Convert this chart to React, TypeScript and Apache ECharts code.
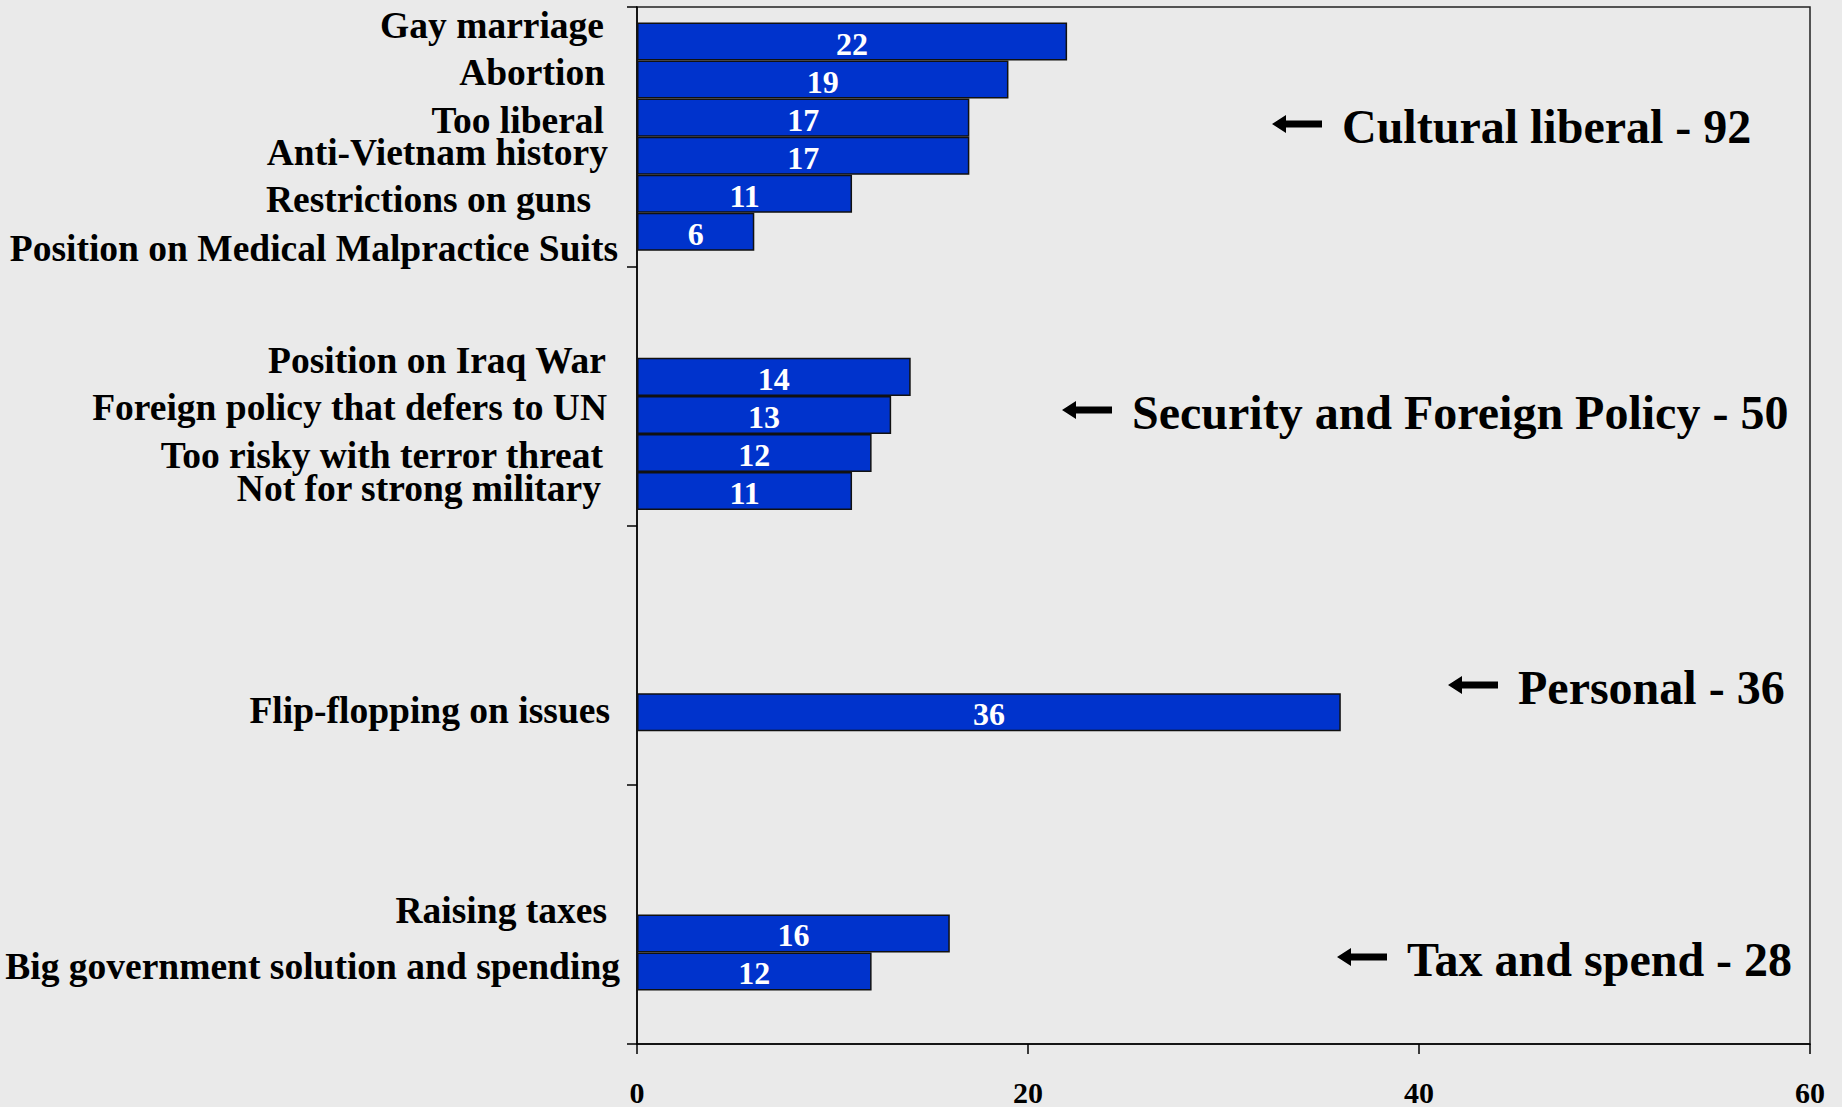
import React, { useEffect, useRef } from "react";
import * as echarts from "echarts";

// ---------- data ----------
const groupNames = ["Cultural liberal", "Security and Foreign Policy", "Personal", "Tax and spend"];
const groupTotals = [92, 50, 36, 28];

const issueNames = [
  "Gay marriage",
  "Abortion",
  "Too liberal",
  "Anti-Vietnam history",
  "Restrictions on guns",
  "Position on Medical Malpractice Suits",
  "Position on Iraq War",
  "Foreign policy that defers to UN",
  "Too risky with terror threat",
  "Not for strong military",
  "Flip-flopping on issues",
  "Raising taxes",
  "Big government solution and spending",
];
const issueValues = [22, 19, 17, 17, 11, 6, 14, 13, 12, 11, 36, 16, 12];
const issueGroup = [0, 0, 0, 0, 0, 0, 1, 1, 1, 1, 2, 3, 3];
// bar slot (series) within a group, as in the original 6-series chart
const issueSlot = [0, 1, 2, 3, 4, 5, 2, 3, 4, 5, 4, 3, 4];
const xTicks = [0, 20, 40, 60];

// ---------- layout / style (not data) ----------
const nameNudge: number[][] = [
  [-1, -16], [0, -7], [-1, 2.5], [3, -3], [-14, 6], [13, 16.5],
  [1, -16.5], [2, -7.5], [-2, 2.5], [-4, -2.5],
  [5, -1.5],
  [2, -23], [15, -5],
];
const annotationPos: number[][] = [
  [1272, 126], [1062, 412], [1448, 687], [1337, 959],
];

const FONT = "'Liberation Serif', 'Times New Roman', serif";
const BG = "#EAEAEA";
const BAR = "#0033CC";
const SLOTS = 6;

export default function App() {
  const ref = useRef<HTMLDivElement>(null);

  useEffect(() => {
    if (!ref.current) return;
    const chart = echarts.init(ref.current, undefined, { renderer: "svg" });

    const series: any[] = [];
    for (let s = 0; s < SLOTS; s++) {
      const nameData: any[] = groupNames.map(() => "-");
      const valData: any[] = groupNames.map(() => "-");
      issueNames.forEach((nm, i) => {
        if (issueSlot[i] !== s) return;
        const g = issueGroup[i];
        nameData[g] = { value: 0, label: { formatter: nm, offset: nameNudge[i] } };
        valData[g] = issueValues[i];
      });
      series.push({
        type: "bar",
        name: "names" + s,
        stack: "slot" + s,
        data: nameData,
        barGap: 0,
        barCategoryGap: "12%",
        silent: true,
        itemStyle: { color: "rgba(0,0,0,0)", borderWidth: 0 },
        label: {
          show: true,
          position: "left",
          distance: 32,
          color: "#000",
          fontFamily: FONT,
          fontWeight: "bold",
          fontSize: 37.5,
        },
      });
      series.push({
        type: "bar",
        name: "values" + s,
        stack: "slot" + s,
        data: valData,
        barGap: 0,
        barCategoryGap: "12%",
        itemStyle: { color: BAR, borderColor: "#111", borderWidth: 1.5 },
        label: {
          show: true,
          position: "inside",
          offset: [0, 2],
          color: "#fff",
          fontFamily: FONT,
          fontWeight: "bold",
          fontSize: 32,
        },
      });
    }

    const graphic: any[] = groupNames.map((g, i) => {
      const [ax, ay] = annotationPos[i];
      return {
        type: "group",
        x: ax,
        y: ay,
        children: [
          {
            type: "polygon",
            y: -2,
            shape: {
              points: [
                [0, 0], [14, -9], [14, -3.5], [50, -3.5], [50, 3.5], [14, 3.5], [14, 9],
              ],
            },
            style: { fill: "#000" },
          },
          {
            type: "text",
            x: 70,
            y: 0,
            style: {
              text: `${g} - ${groupTotals[i]}`,
              fill: "#000",
              font: `bold 48px ${FONT}`,
              textAlign: "left",
              textVerticalAlign: "middle",
            },
          },
        ],
      };
    });

    chart.setOption({
      animation: false,
      backgroundColor: BG,
      grid: {
        left: 637,
        right: 32,
        top: 7,
        bottom: 62,
        show: true,
        borderColor: "#222",
        borderWidth: 1.5,
        backgroundColor: "transparent",
      },
      xAxis: {
        type: "value",
        min: xTicks[0],
        max: xTicks[xTicks.length - 1],
        interval: xTicks[1] - xTicks[0],
        splitLine: { show: false },
        axisLine: { show: true, lineStyle: { color: "#000", width: 1.5 } },
        axisTick: { show: true, length: 10, lineStyle: { color: "#000", width: 1.5 } },
        axisLabel: {
          color: "#000",
          fontFamily: FONT,
          fontWeight: "bold",
          fontSize: 30,
          margin: 33,
        },
      },
      yAxis: {
        type: "category",
        inverse: true,
        data: groupNames,
        axisLine: { show: true, lineStyle: { color: "#000", width: 1.5 } },
        axisTick: { show: true, length: 10, lineStyle: { color: "#000", width: 1.5 } },
        axisLabel: { show: false },
        splitLine: { show: false },
      },
      series,
      graphic,
    });

    return () => chart.dispose();
  }, []);

  return (
    <div
      ref={ref}
      style={{ position: "fixed", left: 0, top: 0, width: 1842, height: 1107, background: BG }}
    />
  );
}
